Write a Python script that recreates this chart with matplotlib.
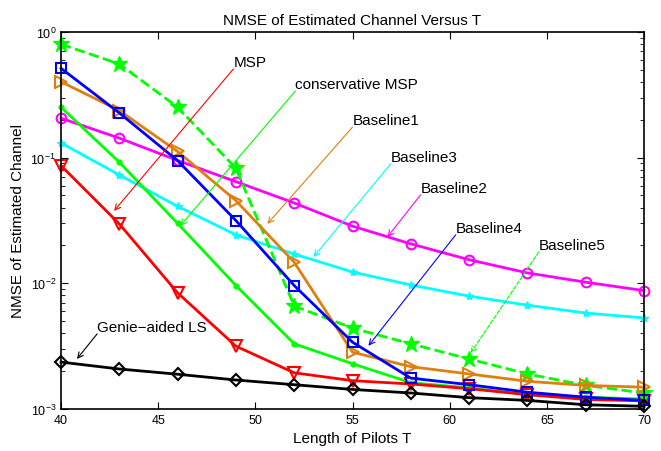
import numpy as np
import matplotlib
matplotlib.use("Agg")
import matplotlib.pyplot as plt

# -----------------------------
# Data
# -----------------------------
pilots = [40, 43, 46, 49, 52, 55, 58, 61, 64, 67, 70]

msp = [0.0864, 0.0297, 8.4e-3, 3.16e-3, 1.94e-3, 1.68e-3, 1.58e-3, 1.45e-3, 1.30e-3, 1.19e-3, 1.16e-3]
conservative_msp = [0.252, 0.092, 0.0300, 9.6e-3, 3.3e-3, 2.29e-3, 1.62e-3, 1.47e-3, 1.30e-3, 1.24e-3, 1.20e-3]
baseline1 = [0.402, 0.237, 0.112, 0.0455, 0.0147, 2.83e-3, 2.17e-3, 1.90e-3, 1.66e-3, 1.54e-3, 1.49e-3]
baseline2 = [0.206, 0.143, 0.095, 0.0644, 0.0436, 0.0285, 0.0206, 0.0154, 0.0121, 0.0102, 8.75e-3]
baseline3 = [0.131, 0.0728, 0.041, 0.0243, 0.0171, 0.0123, 9.7e-3, 7.9e-3, 6.7e-3, 5.8e-3, 5.3e-3]
baseline4 = [0.514, 0.227, 0.0946, 0.0316, 9.6e-3, 3.4e-3, 1.76e-3, 1.56e-3, 1.36e-3, 1.24e-3, 1.17e-3]
baseline5 = [0.80, 0.556, 0.252, 0.0823, 6.6e-3, 4.4e-3, 3.3e-3, 2.5e-3, 1.9e-3, 1.54e-3, 1.34e-3]
genie_ls = [2.36e-3, 2.08e-3, 1.89e-3, 1.70e-3, 1.56e-3, 1.43e-3, 1.34e-3, 1.23e-3, 1.17e-3, 1.08e-3, 1.05e-3]

# label, tail (text) position, arrow head position, colour, linestyle
labels = ["MSP", "conservative MSP", "Baseline1", "Baseline3", "Baseline2",
          "Baseline4", "Baseline5", "Genie\u2212aided LS"]
label_tail = [(48.87, 0.508), (52.06, 0.339), (55.0, 0.175), (56.96, 0.089),
              (58.5, 0.0505), (60.31, 0.0243), (64.59, 0.0178), (41.86, 3.96e-3)]
label_head = [(42.73, 0.0377), (46.13, 0.0286), (50.62, 0.0297), (52.99, 0.0162),
              (56.8, 0.0234), (55.82, 3.18e-3), (61.08, 2.79e-3), (40.82, 2.5e-3)]

GREEN = "#00ff00"
ORANGE = "#dd8010"
label_colors = ["red", GREEN, ORANGE, "cyan", "magenta", "blue", GREEN, "black"]
label_styles = ["-", "-", "-", "-", "-", "-", "--", "-"]

plt.rcParams["font.family"] = ["Liberation Sans", "DejaVu Sans"]
plt.rcParams["mathtext.fontset"] = "custom"
plt.rcParams["mathtext.rm"] = "Liberation Sans"

# -----------------------------
# Figure
# -----------------------------
fig = plt.figure(figsize=(6.61, 4.52), dpi=100)
ax = fig.add_axes([0.0923, 0.093, 0.882, 0.834])

lw = 2.0
common = dict(linewidth=lw, clip_on=False)
ax.semilogy(pilots, baseline2, color="magenta", marker="o", markersize=7,
            markerfacecolor="none", markeredgewidth=1.5, **common)
ax.semilogy(pilots, baseline3, color="cyan", marker="*", markersize=6, **common)
ax.semilogy(pilots, baseline5, color=GREEN, marker="*", markersize=12, linestyle="--",
            **common)
ax.semilogy(pilots, baseline1, color=ORANGE, marker=">", markersize=8,
            markerfacecolor="none", markeredgewidth=1.5, **common)
ax.semilogy(pilots, conservative_msp, color=GREEN, marker=".", markersize=7, **common)
ax.semilogy(pilots, msp, color="red", marker="v", markersize=8,
            markerfacecolor="none", markeredgewidth=1.5, **common)
ax.semilogy(pilots, baseline4, color="blue", marker="s", markersize=7,
            markerfacecolor="none", markeredgewidth=1.5, **common)
ax.semilogy(pilots, genie_ls, color="black", marker="D", markersize=6,
            markerfacecolor="none", markeredgewidth=1.5, **common)

# -----------------------------
# Arrow labels
# -----------------------------
for text, tail, head, c, ls in zip(labels, label_tail, label_head, label_colors, label_styles):
    ax.annotate("", xy=head, xytext=tail,
                arrowprops=dict(arrowstyle="->", color=c, linewidth=0.8, linestyle=ls,
                                shrinkA=0, shrinkB=0, mutation_scale=10))
    ax.text(tail[0], tail[1], text, fontsize=11, ha="left", va="bottom")

ax.set_xlim(40, 70)
ax.set_ylim(1e-3, 1)
ax.set_xticks([40, 45, 50, 55, 60, 65, 70])
ax.tick_params(which="both", direction="in", top=True, right=True, labelsize=9)
ax.tick_params(which="major", length=5)
ax.tick_params(which="minor", length=3)
for side in ax.spines.values():
    side.set_linewidth(1.2)

ax.set_title("NMSE of Estimated Channel Versus T", fontsize=11)
ax.set_xlabel("Length of Pilots T", fontsize=11, labelpad=4)
ax.set_ylabel("NMSE of Estimated Channel", fontsize=11)

fig.savefig("out.png", dpi=100)
